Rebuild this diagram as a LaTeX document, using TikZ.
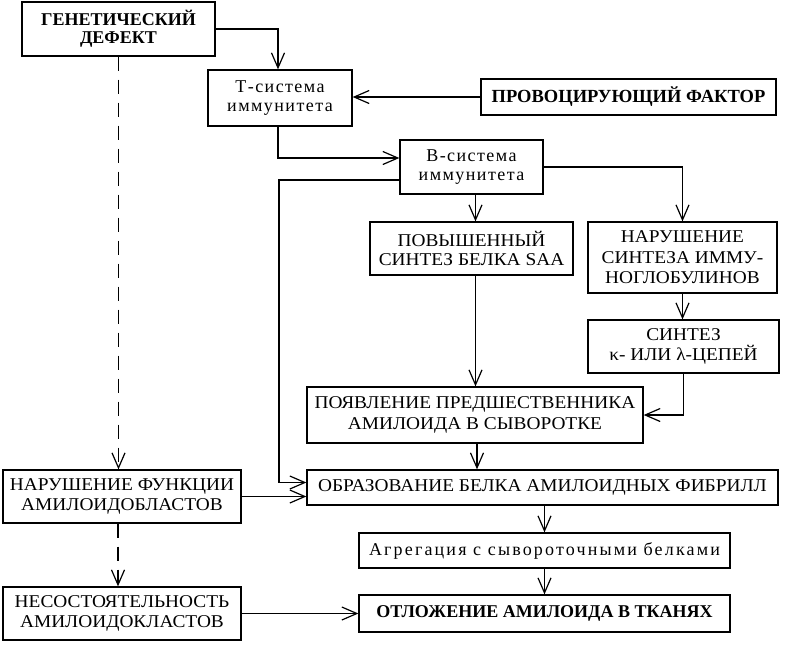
\documentclass[tikz,border=0pt]{standalone}
\usepackage{fontspec}
\setmainfont{Liberation Serif}
\newfontfamily\widefont[FakeStretch=1.075]{Liberation Serif}
\newfontfamily\spacedfont[LetterSpace=8]{Liberation Serif}
\newfontfamily\widespacedfont[LetterSpace=12]{Liberation Serif}
\usetikzlibrary{arrows.meta,positioning}

\tikzset{
  box/.style={draw, line width=1.3pt, align=center, inner sep=1pt,
    font=\fontsize{18}{20.5}\widefont},
  boldbox/.style={box, font=\fontsize{18}{18.5}\selectfont\bfseries},
  lowbox/.style={box, font=\fontsize{18}{19}\spacedfont},
  link/.style={line width=1.2pt, -{Straight Barb[length=15pt,width=13pt]}},
  dashlink/.style={link, dash pattern=on 14pt off 9pt},
}

\begin{document}
\begin{tikzpicture}[x=1pt,y=-1pt]
  \useasboundingbox (0,0) rectangle (789,657);

  % top chain
  \node[boldbox, minimum width=193pt, minimum height=54pt] (gen) at (118.5,29) {ГЕНЕТИЧЕСКИЙ\\ДЕФЕКТ};
  \node[lowbox, minimum width=144pt, minimum height=56pt] (tsys) at (280,98) {Т-система\\иммунитета};
  \node[boldbox, minimum width=295pt, minimum height=36pt, font=\fontsize{18.5}{19}\selectfont\bfseries] (prov) at (628.5,97) {ПРОВОЦИРУЮЩИЙ ФАКТОР};
  \node[lowbox, minimum width=143pt, minimum height=54pt] (bsys) at (471.5,167) {В-система\\иммунитета};

  % middle
  \node[box, minimum width=203pt, minimum height=53pt, font=\fontsize{18}{19}\widefont] (saa) at (471.5,248.5) {ПОВЫШЕННЫЙ\\СИНТЕЗ БЕЛКА SAA};
  \node[box, minimum width=189pt, minimum height=71pt] (immu) at (682.5,257.5) {НАРУШЕНИЕ\\СИНТЕЗА ИММУ-\\НОГЛОБУЛИНОВ};
  \node[box, minimum width=191pt, minimum height=53pt] (chain) at (683.5,346.5) {СИНТЕЗ\\κ- ИЛИ λ-ЦЕПЕЙ};
  \node[box, minimum width=336pt, minimum height=56pt] (pred) at (475,415) {ПОЯВЛЕНИЕ ПРЕДШЕСТВЕННИКА\\АМИЛОИДА В СЫВОРОТКЕ};

  % bottom
  \node[box, minimum width=471pt, minimum height=35pt] (fibr) at (542.5,487.5) {ОБРАЗОВАНИЕ БЕЛКА АМИЛОИДНЫХ ФИБРИЛЛ};
  \node[lowbox, minimum width=371pt, minimum height=35pt, font=\fontsize{18}{19}\widespacedfont] (aggr) at (544.5,550.5) {Агрегация с сывороточными белками};
  \node[boldbox, minimum width=371pt, minimum height=37pt] (depo) at (544.5,613.5) {ОТЛОЖЕНИЕ АМИЛОИДА В ТКАНЯХ};
  \node[box, minimum width=238pt, minimum height=53pt] (blast) at (122,496.5) {НАРУШЕНИЕ ФУНКЦИИ\\АМИЛОИДОБЛАСТОВ};
  \node[box, minimum width=238pt, minimum height=53pt] (clast) at (122,613.5) {НЕСОСТОЯТЕЛЬНОСТЬ\\АМИЛОИДОКЛАСТОВ};

  \coordinate (bleft) at (279,180);

  \draw[link] (gen.east) -| ([xshift=-2pt]tsys.north);
  \draw[link] (prov.west) -- (prov.west -| tsys.east);
  \draw[link] ([xshift=-2pt]tsys.south) |- ([yshift=9pt]bsys.west);
  \draw[link] ([xshift=4pt]bsys.south) -- ([xshift=4pt]bsys.south |- saa.north);
  \draw[link] (bsys.east) -| (immu.north);
  \draw[link] ([yshift=-13pt]bsys.west) -- (bleft) |- ([yshift=5pt]fibr.west);
  \draw[link] ([xshift=4pt]saa.south) -- ([xshift=4pt]saa.south |- pred.north);
  \draw[link] (immu.south) -- (immu.south |- chain.north);
  \draw[link] (chain.south) |- (pred.east);
  \draw[link] ([xshift=2pt]pred.south) -- ([xshift=2pt]pred.south |- fibr.north);
  \draw[link] (aggr.north |- fibr.south) -- (aggr.north);
  \draw[link] (aggr.south) -- (depo.north);
  \draw[link] (blast.east) -- (blast.east -| fibr.west);
  \draw[link] (clast.east) -- (depo.west);
  \draw[dashlink] (gen.south) -- (gen.south |- blast.north);
  \draw[dashlink] ([xshift=-4pt]blast.south) -- ([xshift=-4pt]clast.north);
\end{tikzpicture}
\end{document}
